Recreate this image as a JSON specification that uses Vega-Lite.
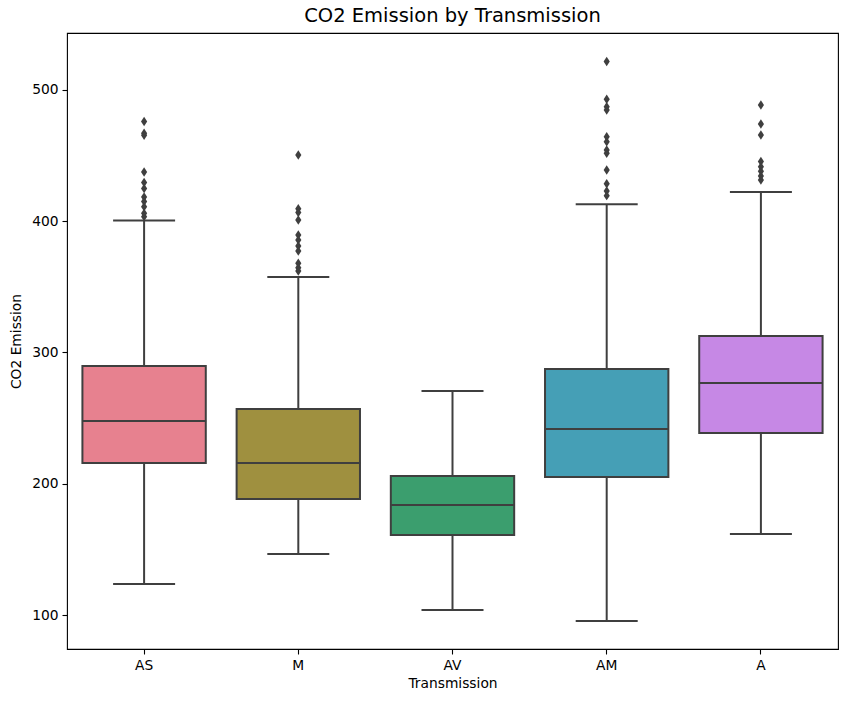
{
  "$schema": "https://vega.github.io/schema/vega-lite/v6.json",
  "autosize": {"type": "none"},
  "width": 771,
  "height": 616,
  "padding": {"left": 67, "top": 33, "right": 12, "bottom": 53},
  "background": "white",
  "title": {"text": "CO2 Emission by Transmission", "font": "DejaVu Sans", "fontSize": 19.5, "fontWeight": "normal", "color": "black", "offset": 7, "anchor": "middle"},
  "config": {
    "view": {"stroke": "black", "strokeWidth": 1.1},
    "axis": {"labelFont": "DejaVu Sans", "titleFont": "DejaVu Sans", "labelFontSize": 13.8, "titleFontSize": 13.8, "titleFontWeight": "normal", "labelColor": "black", "titleColor": "black", "tickColor": "black", "domain": false, "grid": false, "tickSize": 5, "tickWidth": 1.1}
  },
  "datasets": {
    "boxes": [
      {"Transmission": "AS", "low": 123.6, "q1": 215.8, "median": 247.8, "q3": 289.7, "high": 400.5},
      {"Transmission": "M", "low": 146.5, "q1": 188.4, "median": 215.8, "q3": 257.0, "high": 357.5},
      {"Transmission": "AV", "low": 103.8, "q1": 161.0, "median": 183.8, "q3": 205.9, "high": 270.7},
      {"Transmission": "AM", "low": 95.4, "q1": 205.1, "median": 241.7, "q3": 287.4, "high": 413.0},
      {"Transmission": "A", "low": 161.7, "q1": 238.7, "median": 276.8, "q3": 312.6, "high": 422.3}
    ],
    "outliers": [
      {"Transmission": "AS", "CO2": 475.9},
      {"Transmission": "AS", "CO2": 467.0},
      {"Transmission": "AS", "CO2": 465.5},
      {"Transmission": "AS", "CO2": 437.5},
      {"Transmission": "AS", "CO2": 429.5},
      {"Transmission": "AS", "CO2": 425.0},
      {"Transmission": "AS", "CO2": 418.5},
      {"Transmission": "AS", "CO2": 415.0},
      {"Transmission": "AS", "CO2": 411.0},
      {"Transmission": "AS", "CO2": 406.0},
      {"Transmission": "AS", "CO2": 403.5},
      {"Transmission": "M", "CO2": 450.5},
      {"Transmission": "M", "CO2": 409.5},
      {"Transmission": "M", "CO2": 406.6},
      {"Transmission": "M", "CO2": 401.0},
      {"Transmission": "M", "CO2": 389.5},
      {"Transmission": "M", "CO2": 385.7},
      {"Transmission": "M", "CO2": 381.1},
      {"Transmission": "M", "CO2": 377.4},
      {"Transmission": "M", "CO2": 368.0},
      {"Transmission": "M", "CO2": 364.5},
      {"Transmission": "M", "CO2": 362.0},
      {"Transmission": "AM", "CO2": 521.6},
      {"Transmission": "AM", "CO2": 492.9},
      {"Transmission": "AM", "CO2": 487.3},
      {"Transmission": "AM", "CO2": 484.8},
      {"Transmission": "AM", "CO2": 464.4},
      {"Transmission": "AM", "CO2": 460.6},
      {"Transmission": "AM", "CO2": 454.3},
      {"Transmission": "AM", "CO2": 451.8},
      {"Transmission": "AM", "CO2": 439.0},
      {"Transmission": "AM", "CO2": 428.5},
      {"Transmission": "AM", "CO2": 423.0},
      {"Transmission": "AM", "CO2": 419.5},
      {"Transmission": "A", "CO2": 488.6},
      {"Transmission": "A", "CO2": 474.0},
      {"Transmission": "A", "CO2": 465.7},
      {"Transmission": "A", "CO2": 445.5},
      {"Transmission": "A", "CO2": 441.5},
      {"Transmission": "A", "CO2": 438.0},
      {"Transmission": "A", "CO2": 434.5},
      {"Transmission": "A", "CO2": 431.4}
    ]
  },
  "encoding": {
    "x": {"field": "Transmission", "type": "nominal", "sort": ["AS", "M", "AV", "AM", "A"],
          "scale": {"paddingInner": 0, "paddingOuter": 0},
          "axis": {"labelAngle": 0, "title": "Transmission", "labelPadding": 4, "titlePadding": 5}}
  },
  "layer": [
    {
      "data": {"name": "boxes"},
      "mark": {"type": "rule", "color": "#3f3f3f", "strokeWidth": 2},
      "encoding": {
        "y": {"field": "low", "type": "quantitative", "scale": {"domain": [74.1, 543.4], "nice": false, "zero": false},
              "axis": {"values": [100, 200, 300, 400, 500], "title": "CO2 Emission", "titlePadding": 8, "labelPadding": 4}},
        "y2": {"field": "q1"}
      }
    },
    {
      "data": {"name": "boxes"},
      "mark": {"type": "rule", "color": "#3f3f3f", "strokeWidth": 2},
      "encoding": {
        "y": {"field": "q3", "type": "quantitative"},
        "y2": {"field": "high"}
      }
    },
    {
      "data": {"name": "boxes"},
      "mark": {"type": "bar", "width": {"band": 0.8}, "stroke": "#3f3f3f", "strokeWidth": 2},
      "encoding": {
        "y": {"field": "q1", "type": "quantitative"},
        "y2": {"field": "q3"},
        "color": {"field": "Transmission", "type": "nominal", "legend": null,
                  "scale": {"domain": ["AS", "M", "AV", "AM", "A"], "range": ["#e7818f", "#9f903f", "#3b9e6e", "#459fb6", "#c688e5"]}}
      }
    },
    {
      "data": {"name": "boxes"},
      "mark": {"type": "tick", "color": "#3f3f3f", "thickness": 2, "size": 124, "opacity": 1},
      "encoding": {"y": {"field": "median", "type": "quantitative"}}
    },
    {
      "data": {"name": "boxes"},
      "mark": {"type": "tick", "color": "#3f3f3f", "thickness": 2, "size": 62, "opacity": 1},
      "encoding": {"y": {"field": "low", "type": "quantitative"}}
    },
    {
      "data": {"name": "boxes"},
      "mark": {"type": "tick", "color": "#3f3f3f", "thickness": 2, "size": 62, "opacity": 1},
      "encoding": {"y": {"field": "high", "type": "quantitative"}}
    },
    {
      "data": {"name": "outliers"},
      "mark": {"type": "point", "shape": "M0,-1L0.65,0L0,1L-0.65,0Z", "filled": true, "color": "#3f3f3f", "size": 90, "opacity": 1},
      "encoding": {"y": {"field": "CO2", "type": "quantitative"}}
    }
  ]
}
